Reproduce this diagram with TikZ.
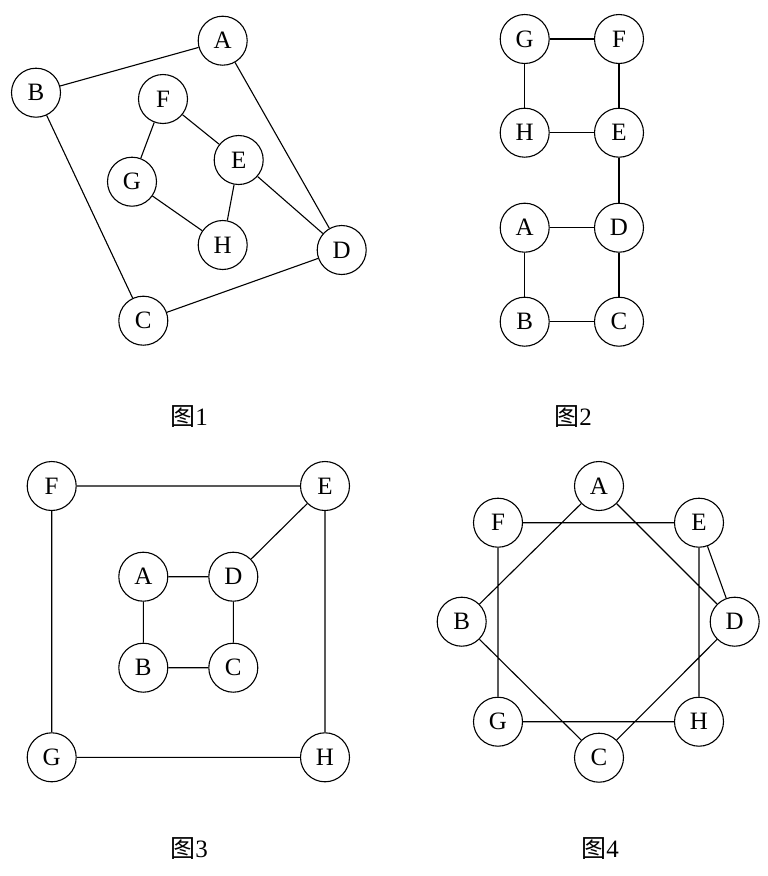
\documentclass[tikz,border=0pt]{standalone}
\usepackage{fontspec}
\setmainfont{Liberation Serif}
\newfontfamily\cjk{Noto Sans CJK SC}
\begin{document}
\begin{tikzpicture}[x=1pt,y=-1pt,
  vtx/.style={circle,draw,line width=1.1pt,minimum size=49pt,inner sep=0pt,font=\fontsize{25}{25}\selectfont},
  edg/.style={line width=1.1pt},
  figcap/.style={font=\fontsize{25}{25}\selectfont}]
\useasboundingbox (0,0) rectangle (768,876);
% Figure 1
\node[vtx] (a1) at (222.7,40.7) {A};
\node[vtx] (b1) at (36,92.7) {B};
\node[vtx] (f1) at (163,99) {F};
\node[vtx] (e1) at (238.7,160) {E};
\node[vtx] (g1) at (132,181.7) {G};
\node[vtx] (h1) at (222.7,245) {H};
\node[vtx] (d1) at (341.7,250) {D};
\node[vtx] (c1) at (143.3,320.7) {C};
\draw[edg] (a1)--(b1) (a1)--(d1) (b1)--(c1) (c1)--(d1)
  (f1)--(e1) (f1)--(g1) (g1)--(h1) (h1)--(e1) (e1)--(d1);
\node[figcap] (t1) at (189,417) {{\cjk 图}1};
% Figure 2
\node[vtx] (g2) at (524.7,39) {G};
\node[vtx] (f2) at (619,39) {F};
\node[vtx] (h2) at (524.7,132.7) {H};
\node[vtx] (e2) at (619,132.7) {E};
\node[vtx] (a2) at (524.7,227.7) {A};
\node[vtx] (d2) at (619,227.7) {D};
\node[vtx] (b2) at (524.7,321.7) {B};
\node[vtx] (c2) at (619,321.7) {C};
\draw[edg] (g2)--(f2) (g2)--(h2) (h2)--(e2) (f2)--(e2) (e2)--(d2)
  (a2)--(d2) (a2)--(b2) (b2)--(c2) (d2)--(c2);
\node[figcap] (t2) at (573,417) {{\cjk 图}2};
% Figure 3
\node[vtx] (f3) at (51.7,486) {F};
\node[vtx] (e3) at (325,486) {E};
\node[vtx] (a3) at (143.3,576.7) {A};
\node[vtx] (d3) at (233.3,576.7) {D};
\node[vtx] (b3) at (143.3,667.7) {B};
\node[vtx] (c3) at (233.3,667.7) {C};
\node[vtx] (g3) at (51.7,757.3) {G};
\node[vtx] (h3) at (325,757.3) {H};
\draw[edg] (f3)--(e3) (f3)--(g3) (g3)--(h3) (e3)--(h3) (e3)--(d3)
  (a3)--(d3) (a3)--(b3) (b3)--(c3) (d3)--(c3);
\node[figcap] (t3) at (189,849) {{\cjk 图}3};
% Figure 4
\node[vtx] (a4) at (599,486) {A};
\node[vtx] (f4) at (498,522.7) {F};
\node[vtx] (e4) at (699,522.7) {E};
\node[vtx] (b4) at (461.7,621.7) {B};
\node[vtx] (d4) at (734.7,621.7) {D};
\node[vtx] (g4) at (498,721.7) {G};
\node[vtx] (h4) at (699,721.7) {H};
\node[vtx] (c4) at (599,757.7) {C};
\draw[edg] (f4)--(e4) (f4)--(g4) (g4)--(h4) (e4)--(h4) (a4)--(b4)
  (a4)--(d4) (e4)--(d4) (b4)--(c4) (d4)--(c4);
\node[figcap] (t4) at (600,849) {{\cjk 图}4};
\end{tikzpicture}
\end{document}
